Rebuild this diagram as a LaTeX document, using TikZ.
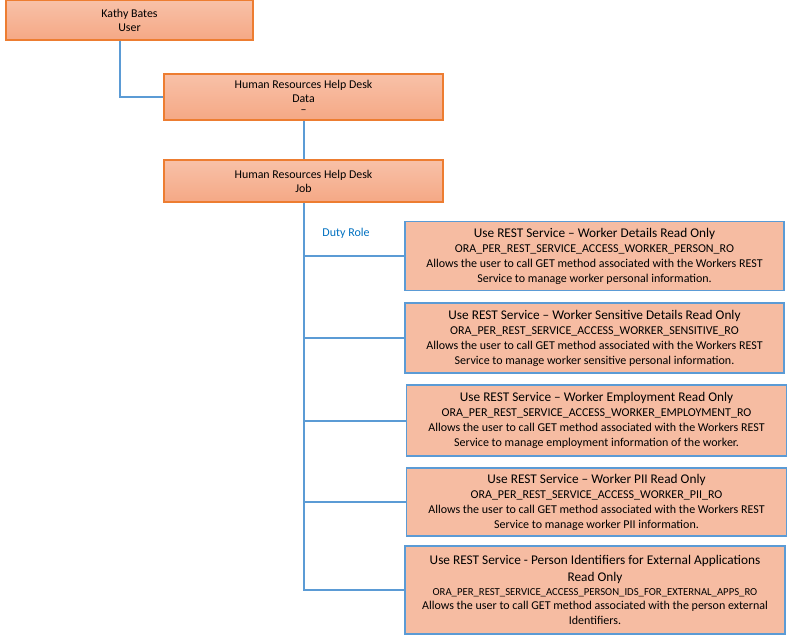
\documentclass[tikz,border=0pt]{standalone}
\usepackage{fontspec}
\setmainfont{Carlito}
\definecolor{accentorange}{HTML}{ED7D31}
\definecolor{accentblue}{HTML}{5B9BD5}
\definecolor{toptint}{HTML}{F8C1A8}
\definecolor{bottint}{HTML}{F5A885}
\definecolor{dutyfill}{HTML}{F6BCA2}
\definecolor{labelblue}{HTML}{0070C0}
\newcommand{\dutytitle}{\fontsize{13.3}{15}\selectfont}
\begin{document}
\begin{tikzpicture}[x=1pt,y=-1pt,
    rolebox/.style={rectangle,draw=accentorange,line width=1.2pt,top color=toptint,bottom color=bottint,
      align=center,inner sep=0pt,font=\fontsize{11.9}{14}\selectfont},
    dutybox/.style={rectangle,draw=accentblue,line width=1.2pt,fill=dutyfill,
      align=center,inner sep=0pt,minimum width=379pt,font=\fontsize{12}{15}\selectfont},
    link/.style={draw=accentblue,line width=2pt}]
  \useasboundingbox (0,0) rectangle (787,641);
  \node[rolebox,minimum width=247pt,minimum height=40pt](user) at (129.5,20){Kathy Bates\\User};
  \node[rolebox,minimum width=279pt,minimum height=46pt](data) at (303.5,97){Human Resources Help Desk\\Data\\[-3pt]–};
  \node[rolebox,minimum width=279pt,minimum height=42pt](job) at (303.5,181){Human Resources Help Desk\\Job};
  \node[dutybox,minimum height=69pt](d1) at (594.5,256){\dutytitle Use REST Service – Worker Details Read Only\\
    ORA\_PER\_REST\_SERVICE\_ACCESS\_WORKER\_PERSON\_RO\\
    Allows the user to call GET method associated with the Workers REST\\
    Service to manage worker personal information.};
  \node[dutybox,minimum height=70pt](d2) at (594.5,338){\dutytitle Use REST Service – Worker Sensitive Details Read Only\\
    ORA\_PER\_REST\_SERVICE\_ACCESS\_WORKER\_SENSITIVE\_RO\\
    Allows the user to call GET method associated with the Workers REST\\
    Service to manage worker sensitive personal information.};
  \node[dutybox,minimum width=380pt,minimum height=71pt](d3) at (596.5,420.5){\dutytitle Use REST Service – Worker Employment Read Only\\
    ORA\_PER\_REST\_SERVICE\_ACCESS\_WORKER\_EMPLOYMENT\_RO\\
    Allows the user to call GET method associated with the Workers REST\\
    Service to manage employment information of the worker.};
  \node[dutybox,minimum width=380pt,minimum height=68pt](d4) at (596.5,502){\dutytitle Use REST Service – Worker PII Read Only\\
    ORA\_PER\_REST\_SERVICE\_ACCESS\_WORKER\_PII\_RO\\
    Allows the user to call GET method associated with the Workers REST\\
    Service to manage worker PII information.};
  \node[dutybox,minimum width=380pt,minimum height=88pt](d5) at (595,590){\dutytitle Use REST Service - Person Identifiers for External Applications\\[2pt]
    \dutytitle Read Only\\[-1pt]
    \fontsize{10.7}{14}\selectfont ORA\_PER\_REST\_SERVICE\_ACCESS\_PERSON\_IDS\_FOR\_EXTERNAL\_APPS\_RO\\[-1pt]
    Allows the user to call GET method associated with the person external\\
    Identifiers.};
  \node[text=labelblue,font=\fontsize{12}{14}\selectfont](duty) at (346,233){Duty Role};
  \draw[link] ([xshift=-9.5pt]user.south) |- (data.west);
  \draw[link] (data) -- (job);
  \draw[link] (job.south) |- (d5.west);
  \foreach \d in {d1,d2,d3,d4}
    \draw[link] (job.south |- \d.west) -- (\d.west);
\end{tikzpicture}
\end{document}
